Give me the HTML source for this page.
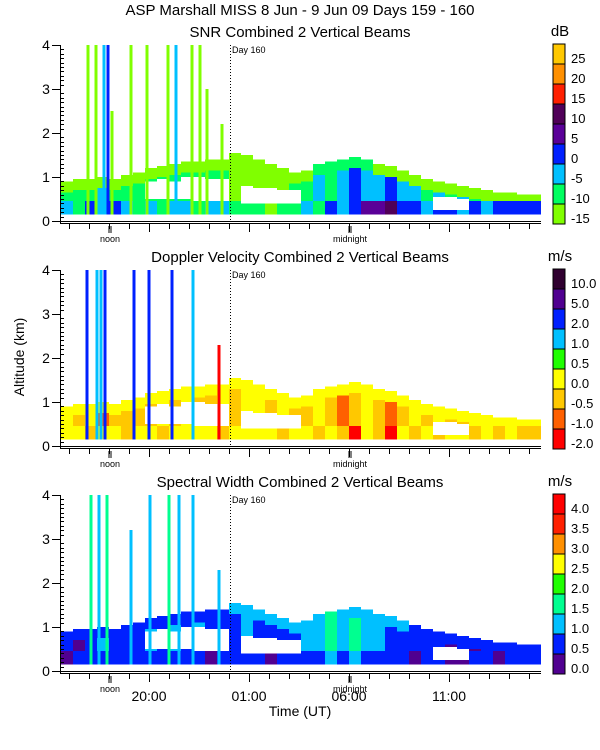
<!DOCTYPE html>
<html><head><meta charset="utf-8"><style>
body{margin:0;background:#fff;width:600px;height:750px;overflow:hidden}
svg{display:block;font-family:"Liberation Sans",sans-serif}
</style></head><body>
<svg id="c" width="600" height="750" xmlns="http://www.w3.org/2000/svg">
<text x="300" y="15" font-size="15" text-anchor="middle">ASP Marshall MISS   8 Jun -  9 Jun 09 Days 159 - 160</text>
<text x="24" y="357" font-size="14" text-anchor="middle" transform="rotate(-90 24 357)">Altitude (km)</text>
<text x="300" y="716" font-size="14" text-anchor="middle">Time (UT)</text>
</svg>
<script>
// shared echo envelope, 40 bins of 0.6 h starting at 15.6 h
const binStart = 15.6, binW = 0.6;
const envTop = [0.9,0.95,0.95,1.0,0.95,1.05,1.1,1.2,1.25,1.3,1.35,1.35,1.4,1.4,1.55,1.5,1.4,1.3,1.2,1.1,1.15,1.3,1.35,1.4,1.45,1.4,1.3,1.25,1.15,1.05,0.95,0.9,0.85,0.8,0.75,0.7,0.65,0.65,0.6,0.6];
const gapLo = [0,0,0,0,0,0,0,0.5,0.5,0.5,0.5,0.45,0.45,0.45,0,0.4,0.4,0.4,0.4,0.4,0,0,0,0,0,0,0,0,0,0,0,0.25,0.25,0.25,0,0,0,0,0,0];
const gapHi = [0,0,0,0,0,0,0,0.9,0.95,0.9,1.0,1.0,0.95,0.95,0,0.8,0.75,0.75,0.7,0.7,0,0,0,0,0,0,0,0,0,0,0,0.55,0.55,0.5,0,0,0,0,0,0];
// SNR panel codes (0 lime .. 5 dark purple)
const p1Low = [2,1,3,2,3,2,1,2,1,2,2,1,2,2,1,1,1,0,1,1,2,1,3,2,3,4,4,5,3,3,2,3,3,2,3,2,3,3,3,3];
const p1Mid = [1,1,1,2,1,1,1,1,1,1,1,1,1,1,0,0,0,0,0,1,1,2,1,2,3,2,2,3,2,2,1,2,1,2,1,2,2,1,2,2];
const p1Edge = [0,0,0,0,0,0,0,0,0,0,0,0,0,0,0,0,0,0,0,0,0,1,1,1,1,1,0,0,0,0,0,0,0,0,0,0,0,0,0,0];
// Doppler codes (0 red .. 8 dark)
const p2Low = [3,3,2,3,3,2,3,3,2,3,3,3,3,2,3,3,3,3,2,3,3,2,3,2,0,3,2,0,3,2,3,2,3,3,2,3,2,3,2,2];
const p2Mid = [3,2,3,1,2,2,2,2,3,2,3,2,2,3,2,3,3,2,3,2,2,3,2,1,2,3,2,1,2,3,2,3,2,2,3,2,2,3,2,2];
const p2Edge = [3,3,3,3,3,3,3,3,3,3,3,3,3,3,3,3,3,3,3,3,3,3,3,3,3,3,3,3,3,3,3,3,3,3,3,3,3,3,3,3];
// Spectral width codes (0 purple .. 8 red)
const p3Low = [0,1,1,1,1,1,1,1,1,1,1,1,0,1,1,1,1,0,1,1,1,1,2,1,2,1,1,1,1,0,1,1,0,0,1,1,0,1,1,1];
const p3Mid = [1,0,1,2,1,1,1,2,1,2,1,2,1,1,1,2,1,1,1,1,2,2,3,2,3,2,2,1,1,1,1,1,0,1,0,0,1,1,1,1];
const p3Edge = [1,1,1,1,1,1,1,1,1,1,1,1,1,1,2,2,2,2,2,2,2,2,3,2,2,2,2,2,2,1,1,1,1,1,1,1,1,1,1,1];
// streaks
const s1Hour = [16.95,17.35,17.75,17.95,18.15,19.1,19.9,20.95,21.35,22.15,22.55,22.9,23.65];
const s1Top = [4,4,4,4,2.5,4,4,4,4,4,4,3,2.2];
const s1Code = [0,0,2,3,0,0,0,0,2,0,0,0,0];
const s2Hour = [16.9,17.4,17.6,17.8,19.25,20.0,21.15,22.2,23.5];
const s2Top = [4,4,4,4,4,4,4,4,2.3];
const s2Code = [6,5,5,6,6,6,6,5,0];
const s3Hour = [17.1,17.5,17.9,19.1,20.05,21.0,21.5,22.2,23.5];
const s3Top = [4,4,4,3.2,4,4,4,4,2.3];
const s3Code = [3,2,3,2,2,3,2,2,2];
// colorbars (bottom to top)
const snrColors = ["#80ff00","#00ff60","#00c0ff","#0020ff","#5a0098","#500058","#ff2000","#ff9000","#ffc800"];
const snrLabels = ["-15","-10","-5","0","5","10","15","20","25"];
const dopColors = ["#ff0000","#ff6000","#ffc800","#ffff00","#20ff00","#00c0ff","#0020ff","#500090","#300030"];
const dopLabels = ["-2.0","-1.0","-0.5","0.0","0.5","1.0","2.0","5.0","10.0"];
const swColors = ["#500090","#0020ff","#00c0ff","#00ff90","#20ff00","#ffff00","#ff9000","#ff2000","#ff0000"];
const swLabels = ["0.0","0.5","1.0","1.5","2.0","2.5","3.0","3.5","4.0"];
const majorHours = [20,25,30,35];
const majorLabels = ["20:00","01:00","06:00","11:00"];

const NS="http://www.w3.org/2000/svg", svg=document.getElementById('c');
function mk(tag,attrs,parent){const e=document.createElementNS(NS,tag);for(const k in attrs)e.setAttribute(k,attrs[k]);(parent||svg).appendChild(e);return e;}
const xOf = h => 149 + (h-20)*20;

const panels=[
 {y0:45,title:"SNR Combined 2 Vertical Beams",unit:"dB",low:p1Low,mid:p1Mid,edge:p1Edge,sh:s1Hour,st:s1Top,sc:s1Code,cols:snrColors,labs:snrLabels,name:"snr"},
 {y0:270,title:"Doppler Velocity Combined 2 Vertical Beams",unit:"m/s",low:p2Low,mid:p2Mid,edge:p2Edge,sh:s2Hour,st:s2Top,sc:s2Code,cols:dopColors,labs:dopLabels,name:"doppler"},
 {y0:495,title:"Spectral Width Combined 2 Vertical Beams",unit:"m/s",low:p3Low,mid:p3Mid,edge:p3Edge,sh:s3Hour,st:s3Top,sc:s3Code,cols:swColors,labs:swLabels,name:"width"}
];
panels.forEach((p,pi)=>{
 const g=mk('g',{});
 
 
 const yOf = km => p.y0 + (4-km)*44;
 const t=mk('text',{x:300,y:p.y0-8,'font-size':15,'text-anchor':'middle'},g);t.textContent=p.title;
 
 
 const dg=mk('g',{'shape-rendering':'crispEdges'},g);
 
 
 envTop.forEach((top,i)=>{
  const h0=binStart+i*binW, xa=xOf(h0), w=binW*20;
  const lowTop=Math.min(0.45,top);
  mk('rect',{x:xa,y:yOf(lowTop),width:w,height:yOf(0.15)-yOf(lowTop),fill:p.cols[p.low[i]]},dg);
  if(top-0.25>0.45) mk('rect',{x:xa,y:yOf(top-0.25),width:w,height:yOf(0.45)-yOf(top-0.25),fill:p.cols[p.mid[i]]},dg);
  mk('rect',{x:xa,y:yOf(top),width:w,height:yOf(Math.max(top-0.25,0.45))-yOf(top),fill:p.cols[p.edge[i]]},dg);
  if(gapHi[i]>0) mk('rect',{x:xa,y:yOf(gapHi[i]),width:w,height:yOf(gapLo[i])-yOf(gapHi[i]),fill:"#fff"},dg);
 });
 p.sh.forEach((h,i)=>{
  const r=mk('rect',{x:xOf(h)-1.5,y:yOf(p.st[i]),width:3,height:yOf(0.15)-yOf(p.st[i]),fill:p.cols[p.sc[i]]},dg);
  
  
 });
 const ax=mk('g',{stroke:"#000",'stroke-width':1,'shape-rendering':'crispEdges'},g);
 
 
 mk('line',{x1:60.5,y1:p.y0,x2:60.5,y2:p.y0+178},ax);
 mk('line',{x1:60,y1:p.y0+176.5,x2:541,y2:p.y0+176.5},ax);
 mk('line',{x1:60,y1:p.y0+178.5,x2:541,y2:p.y0+178.5},ax);
 for(let k=0;k<=40;k++){const yy=Math.round(yOf(k/10))+0.5; if(k%10===0) mk('line',{x1:52,y1:yy,x2:61,y2:yy},ax); else mk('line',{x1:61,y1:yy,x2:64,y2:yy},ax);}
 for(let k=0;k<=4;k++){const tl=mk('text',{x:46,y:yOf(k)+5,'font-size':14,'text-anchor':'middle',stroke:'none'},g);tl.textContent=k;
  
  }
 for(let h=16;h<=39;h++){const xx=Math.round(xOf(h))+0.5;const maj=majorHours.includes(h);mk('line',{x1:xx,y1:p.y0+179,x2:xx,y2:p.y0+(maj?187:184)},ax);}
 [["noon",110],["midnight",350]].forEach(m=>{
  const xx=m[1];
  mk('line',{x1:xx-1,y1:p.y0+181,x2:xx-1,y2:p.y0+188},ax);mk('line',{x1:xx+1,y1:p.y0+181,x2:xx+1,y2:p.y0+188},ax);
  const tl=mk('text',{x:xx,y:p.y0+197,'font-size':9,'text-anchor':'middle'},g);tl.textContent=m[0];
  
  
 });
 const dl=mk('line',{x1:230.5,y1:p.y0,x2:230.5,y2:p.y0+177,stroke:"#000",'stroke-dasharray':'1,2'},g);
 
 
 const dt=mk('text',{x:232,y:p.y0+8,'font-size':9},g);dt.textContent="Day 160";
 
 
 const cb=mk('g',{},g);
 
 
 const cTop=p.y0-1, cH=20;
 p.cols.forEach((c,i)=>{mk('rect',{x:553,y:cTop+(8-i)*cH,width:12,height:cH,fill:c,stroke:"#000",'stroke-width':1},cb);});
 p.labs.forEach((l,i)=>{const tl=mk('text',{x:571,y:cTop+(9-i)*cH-1,'font-size':13},cb);tl.textContent=l;
  
  });
 const ut=mk('text',{x:560,y:p.y0-9,'font-size':15,'text-anchor':'middle'},cb);ut.textContent=p.unit;
 
 
});
majorHours.forEach((h,i)=>{const tl=mk('text',{x:xOf(h),y:701,'font-size':14,'text-anchor':'middle'});tl.textContent=majorLabels[i];
 
 });
</script>
</body></html>
